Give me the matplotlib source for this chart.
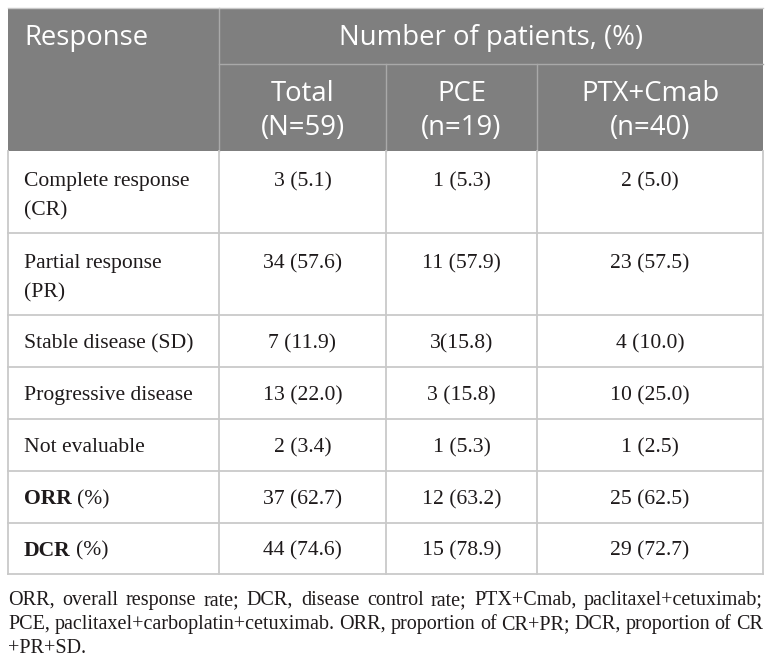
import matplotlib
matplotlib.use('Agg')
import matplotlib.pyplot as plt

# table content
responses = ['Complete response\n(CR)', 'Partial response\n(PR)', 'Stable disease (SD)',
             'Progressive disease', 'Not evaluable', 'ORR', 'DCR']
bold_rows = [False, False, False, False, False, True, True]
total = ['3 (5.1)', '34 (57.6)', '7 (11.9)', '13 (22.0)', '2 (3.4)', '37 (62.7)', '44 (74.6)']
pce = ['1 (5.3)', '11 (57.9)', '3(15.8)', '3 (15.8)', '1 (5.3)', '12 (63.2)', '15 (78.9)']
ptx = ['2 (5.0)', '23 (57.5)', '4 (10.0)', '10 (25.0)', '1 (2.5)', '25 (62.5)', '29 (72.7)']
first_header = 'Response'
group_header = 'Number of patients, (%)'
sub_headers = ['Total\n(N=59)', 'PCE\n(n=19)', 'PTX+Cmab\n(n=40)']
footnote = ['ORR, overall response rate; DCR, disease control rate; PTX+Cmab, paclitaxel+cetuximab;',
            'PCE, paclitaxel+carboplatin+cetuximab. ORR, proportion of CR+PR; DCR, proportion of CR',
            '+PR+SD.']

# layout (pixels)
W, H = 772, 664
col_x = [8, 219, 386, 537, 763]
head_y = [8, 64, 151]
row_h = [82, 82, 52, 52, 52, 52, 51]
head_bg = '#7f7f7f'
head_line = '#a9a9a9'
grid = '#c9c9c9'
ink = '#1e1a1b'
serif = 'Liberation Serif'
sans = 'Open Sans'

fig = plt.figure(figsize=(W / 100, H / 100), dpi=100)
ax = fig.add_axes([0, 0, 1, 1])
ax.set_xlim(0, W)
ax.set_ylim(H, 0)
ax.axis('off')
renderer = fig.canvas.get_renderer()


def width(s, family, size, weight='normal'):
    t = ax.text(0, 0, s, family=family, fontsize=size, fontweight=weight)
    w = t.get_window_extent(renderer).width
    t.remove()
    return w


def fit(s, family, target, weight='normal'):
    return 10 * target / width(s, family, 10, weight)


body_fs = fit('Stable disease (SD)', serif, 170)
head_fs = fit(group_header, sans, 305)
note_fs = fit(footnote[1], serif, 760)


def put(x, yc, s, family, size, color, ha='left', weight='normal'):
    # place text by its visual centre line (half cap height above baseline)
    base = yc + 0.34 * size * 100 / 72
    return ax.text(x, base, s, family=family, fontsize=size, color=color,
                   ha=ha, va='baseline', fontweight=weight)


# header block
ax.fill_between([col_x[0], col_x[-1]], head_y[0], head_y[-1], color=head_bg, lw=0)
ax.plot([col_x[1], col_x[1]], [head_y[0], head_y[2]], color=head_line, lw=1)
ax.plot([col_x[1], col_x[-1]], [head_y[1], head_y[1]], color=head_line, lw=1)
for cx in col_x[2:4]:
    ax.plot([cx, cx], [head_y[1], head_y[2]], color=head_line, lw=1)
ax.plot([col_x[0], col_x[-1]], [head_y[0] - 0.5, head_y[0] - 0.5], color=grid, lw=1)

put(col_x[0] + 16, 36, first_header, sans, head_fs, 'white')
put((col_x[1] + col_x[-1]) / 2, 36, group_header, sans, head_fs, 'white', ha='center')
for i, sh in enumerate(sub_headers):
    cx = (col_x[i + 1] + col_x[i + 2]) / 2
    for j, line in enumerate(sh.split('\n')):
        put(cx, 92 + 34 * j, line, sans, head_fs, 'white', ha='center')

# body rows
y = head_y[-1]
for r, label in enumerate(responses):
    h = row_h[r]
    lines = label.split('\n')
    yc = y + 28 if len(lines) > 1 else y + h / 2
    if bold_rows[r]:
        t = put(col_x[0] + 16, yc, label, serif, body_fs, ink, weight='bold')
        wb = t.get_window_extent(renderer).width
        put(col_x[0] + 16 + wb + 0.25 * body_fs * 100 / 72, yc, '(%)', serif, body_fs, ink)
    else:
        for j, line in enumerate(lines):
            put(col_x[0] + 16, yc + 29 * j, line, serif, body_fs, ink)
    for c, vals in enumerate([total, pce, ptx]):
        cx = (col_x[c + 1] + col_x[c + 2]) / 2
        put(cx, yc, vals[r], serif, body_fs, ink, ha='center')
    y += h
    ax.plot([col_x[0], col_x[-1]], [y, y], color=grid, lw=1.3)

for cx in col_x:
    ax.plot([cx, cx], [head_y[-1], y], color=grid, lw=1.3)

# justified footnote
note_y = [598, 622, 646]
for k, line in enumerate(footnote):
    words = line.split(' ')
    if k == len(footnote) - 1 or len(words) == 1:
        put(col_x[0], note_y[k], line, serif, note_fs, ink)
        continue
    ws = [width(w, serif, note_fs) for w in words]
    gap = (col_x[-1] - col_x[0] - sum(ws)) / (len(words) - 1)
    x = col_x[0]
    for w, wd in zip(words, ws):
        put(x, note_y[k], w, serif, note_fs, ink)
        x += wd + gap

fig.savefig('out.png', dpi=100, facecolor='white')
